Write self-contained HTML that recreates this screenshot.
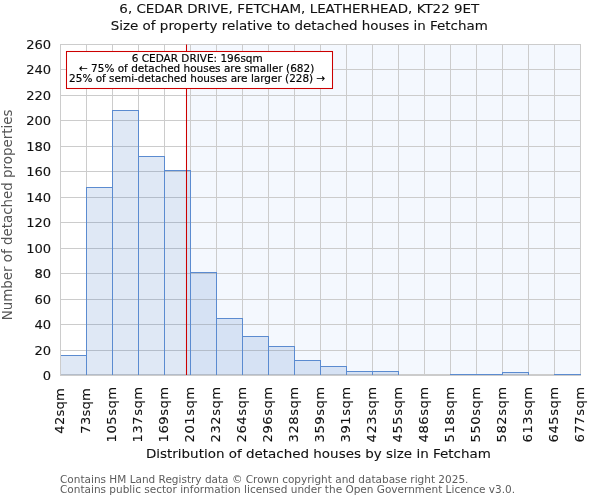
<!DOCTYPE html>
<html lang="en"><head><meta charset="utf-8"><title>6, CEDAR DRIVE, FETCHAM, LEATHERHEAD, KT22 9ET</title>
<style>html,body{margin:0;padding:0;background:#fff;}body{width:600px;height:500px;overflow:hidden;}svg{display:block;will-change:transform;}text{filter:grayscale(1);font-family:"DejaVu Sans","Liberation Sans",sans-serif;fill:#111111;}.b text{stroke:#000;stroke-width:0.18px;}.c text,text.c{stroke:#111;stroke-width:0.12px;}</style></head><body>
<svg width="600" height="500" viewBox="0 0 600 500">
<rect x="0" y="0" width="600" height="500" fill="#ffffff"/>
<rect x="186.50" y="44.00" width="394.50" height="331.00" fill="#3c82e6" fill-opacity="0.055"/>
<g stroke="#cccccc" stroke-width="1.0" fill="none" shape-rendering="crispEdges">
<line x1="60.5" y1="44.0" x2="60.5" y2="376.0"/>
<line x1="86.5" y1="44.0" x2="86.5" y2="376.0"/>
<line x1="112.5" y1="44.0" x2="112.5" y2="376.0"/>
<line x1="138.5" y1="44.0" x2="138.5" y2="376.0"/>
<line x1="164.5" y1="44.0" x2="164.5" y2="376.0"/>
<line x1="190.5" y1="44.0" x2="190.5" y2="376.0"/>
<line x1="216.5" y1="44.0" x2="216.5" y2="376.0"/>
<line x1="242.5" y1="44.0" x2="242.5" y2="376.0"/>
<line x1="268.5" y1="44.0" x2="268.5" y2="376.0"/>
<line x1="294.5" y1="44.0" x2="294.5" y2="376.0"/>
<line x1="320.5" y1="44.0" x2="320.5" y2="376.0"/>
<line x1="346.5" y1="44.0" x2="346.5" y2="376.0"/>
<line x1="372.5" y1="44.0" x2="372.5" y2="376.0"/>
<line x1="398.5" y1="44.0" x2="398.5" y2="376.0"/>
<line x1="424.5" y1="44.0" x2="424.5" y2="376.0"/>
<line x1="450.5" y1="44.0" x2="450.5" y2="376.0"/>
<line x1="476.5" y1="44.0" x2="476.5" y2="376.0"/>
<line x1="502.5" y1="44.0" x2="502.5" y2="376.0"/>
<line x1="528.5" y1="44.0" x2="528.5" y2="376.0"/>
<line x1="554.5" y1="44.0" x2="554.5" y2="376.0"/>
<line x1="580.5" y1="44.0" x2="580.5" y2="376.0"/>
<line x1="60.0" y1="350.5" x2="581.0" y2="350.5"/>
<line x1="60.0" y1="324.5" x2="581.0" y2="324.5"/>
<line x1="60.0" y1="299.5" x2="581.0" y2="299.5"/>
<line x1="60.0" y1="273.5" x2="581.0" y2="273.5"/>
<line x1="60.0" y1="248.5" x2="581.0" y2="248.5"/>
<line x1="60.0" y1="222.5" x2="581.0" y2="222.5"/>
<line x1="60.0" y1="197.5" x2="581.0" y2="197.5"/>
<line x1="60.0" y1="171.5" x2="581.0" y2="171.5"/>
<line x1="60.0" y1="146.5" x2="581.0" y2="146.5"/>
<line x1="60.0" y1="120.5" x2="581.0" y2="120.5"/>
<line x1="60.0" y1="95.5" x2="581.0" y2="95.5"/>
<line x1="60.0" y1="69.5" x2="581.0" y2="69.5"/>
<line x1="60.0" y1="44.5" x2="581.0" y2="44.5"/>
<line x1="60.0" y1="375.0" x2="581.0" y2="375.0" stroke-width="2"/>
</g>
<g fill="#4474c6" fill-opacity="0.17" stroke="none">
<rect x="60.5" y="355.5" width="26.0" height="19.5"/>
<rect x="86.5" y="187.5" width="26.0" height="187.5"/>
<rect x="112.5" y="110.5" width="26.0" height="264.5"/>
<rect x="138.5" y="156.5" width="26.0" height="218.5"/>
<rect x="164.5" y="170.5" width="26.0" height="204.5"/>
<rect x="190.5" y="272.5" width="26.0" height="102.5"/>
<rect x="216.5" y="318.5" width="26.0" height="56.5"/>
<rect x="242.5" y="336.5" width="26.0" height="38.5"/>
<rect x="268.5" y="346.5" width="26.0" height="28.5"/>
<rect x="294.5" y="360.5" width="26.0" height="14.5"/>
<rect x="320.5" y="366.5" width="26.0" height="8.5"/>
<rect x="346.5" y="371.5" width="26.0" height="3.5"/>
<rect x="372.5" y="371.5" width="26.0" height="3.5"/>
<rect x="450.5" y="374.5" width="26.0" height="0.5"/>
<rect x="476.5" y="374.5" width="26.0" height="0.5"/>
<rect x="502.5" y="372.5" width="26.0" height="2.5"/>
<rect x="554.5" y="374.5" width="26.0" height="0.5"/>
</g>
<g fill="none" stroke="#5b8bd0" stroke-width="1.0" shape-rendering="crispEdges">
<path d="M60.5 375 V355.5 H86.5 V375"/>
<path d="M86.5 375 V187.5 H112.5 V375"/>
<path d="M112.5 375 V110.5 H138.5 V375"/>
<path d="M138.5 375 V156.5 H164.5 V375"/>
<path d="M164.5 375 V170.5 H190.5 V375"/>
<path d="M190.5 375 V272.5 H216.5 V375"/>
<path d="M216.5 375 V318.5 H242.5 V375"/>
<path d="M242.5 375 V336.5 H268.5 V375"/>
<path d="M268.5 375 V346.5 H294.5 V375"/>
<path d="M294.5 375 V360.5 H320.5 V375"/>
<path d="M320.5 375 V366.5 H346.5 V375"/>
<path d="M346.5 375 V371.5 H372.5 V375"/>
<path d="M372.5 375 V371.5 H398.5 V375"/>
<path d="M450.5 375 V374.5 H476.5 V375"/>
<path d="M476.5 375 V374.5 H502.5 V375"/>
<path d="M502.5 375 V372.5 H528.5 V375"/>
<path d="M554.5 375 V374.5 H580.5 V375"/>
</g>
<line x1="60.5" y1="44.0" x2="60.5" y2="376" stroke="#cccccc" stroke-width="1" shape-rendering="crispEdges"/>
<line x1="186.50" y1="44.60" x2="186.50" y2="375" stroke="#cc0000" stroke-width="1.05"/>
<rect x="66.5" y="51.5" width="266" height="37" fill="#ffffff" stroke="#cc0000" stroke-width="1.05"/>
<g class="b" font-size="10.47" text-anchor="middle">
<text x="197.25" y="61.8" style="fill:#000000">6 CEDAR DRIVE: 196sqm</text>
<text x="196.65" y="71.8" style="fill:#000000">← 75% of detached houses are smaller (682)</text>
<text x="197.2" y="81.8" style="fill:#000000">25% of semi-detached houses are larger (228) →</text>
</g>
<g class="c" font-size="13.46" text-anchor="middle">
<text transform="translate(299.3,13) scale(1,0.94)">6, CEDAR DRIVE, FETCHAM, LEATHERHEAD, KT22 9ET</text>
<text transform="translate(299.3,30.4) scale(1,0.94)">Size of property relative to detached houses in Fetcham</text>
</g>
<g class="c" font-size="13.1" text-anchor="end">
<text x="51.2" y="380">0</text>
<text x="51.2" y="355">20</text>
<text x="51.2" y="329">40</text>
<text x="51.2" y="304">60</text>
<text x="51.2" y="278">80</text>
<text x="51.2" y="253">100</text>
<text x="51.2" y="227">120</text>
<text x="51.2" y="202">140</text>
<text x="51.2" y="176">160</text>
<text x="51.2" y="151">180</text>
<text x="51.2" y="125">200</text>
<text x="51.2" y="100">220</text>
<text x="51.2" y="74">240</text>
<text x="51.2" y="49">260</text>
</g>
<g class="c" font-size="13.1" text-anchor="end">
<text transform="translate(64.10,388.20) rotate(-90)" x="0" y="0" textLength="45.5" lengthAdjust="spacing">42sqm</text>
<text transform="translate(90.10,388.20) rotate(-90)" x="0" y="0" textLength="45.5" lengthAdjust="spacing">73sqm</text>
<text transform="translate(116.10,386.90) rotate(-90)" x="0" y="0" textLength="55.6" lengthAdjust="spacing">105sqm</text>
<text transform="translate(142.10,386.90) rotate(-90)" x="0" y="0" textLength="55.6" lengthAdjust="spacing">137sqm</text>
<text transform="translate(168.10,386.90) rotate(-90)" x="0" y="0" textLength="55.6" lengthAdjust="spacing">169sqm</text>
<text transform="translate(194.10,386.90) rotate(-90)" x="0" y="0" textLength="55.6" lengthAdjust="spacing">201sqm</text>
<text transform="translate(220.10,386.90) rotate(-90)" x="0" y="0" textLength="55.6" lengthAdjust="spacing">232sqm</text>
<text transform="translate(246.10,386.90) rotate(-90)" x="0" y="0" textLength="55.6" lengthAdjust="spacing">264sqm</text>
<text transform="translate(272.10,386.90) rotate(-90)" x="0" y="0" textLength="55.6" lengthAdjust="spacing">296sqm</text>
<text transform="translate(298.10,386.90) rotate(-90)" x="0" y="0" textLength="55.6" lengthAdjust="spacing">328sqm</text>
<text transform="translate(324.10,386.90) rotate(-90)" x="0" y="0" textLength="55.6" lengthAdjust="spacing">359sqm</text>
<text transform="translate(350.10,386.90) rotate(-90)" x="0" y="0" textLength="55.6" lengthAdjust="spacing">391sqm</text>
<text transform="translate(376.10,386.90) rotate(-90)" x="0" y="0" textLength="55.6" lengthAdjust="spacing">423sqm</text>
<text transform="translate(402.10,386.90) rotate(-90)" x="0" y="0" textLength="55.6" lengthAdjust="spacing">455sqm</text>
<text transform="translate(428.10,386.90) rotate(-90)" x="0" y="0" textLength="55.6" lengthAdjust="spacing">486sqm</text>
<text transform="translate(454.10,386.90) rotate(-90)" x="0" y="0" textLength="55.6" lengthAdjust="spacing">518sqm</text>
<text transform="translate(480.10,386.90) rotate(-90)" x="0" y="0" textLength="55.6" lengthAdjust="spacing">550sqm</text>
<text transform="translate(506.10,386.90) rotate(-90)" x="0" y="0" textLength="55.6" lengthAdjust="spacing">582sqm</text>
<text transform="translate(532.10,386.90) rotate(-90)" x="0" y="0" textLength="55.6" lengthAdjust="spacing">613sqm</text>
<text transform="translate(558.10,386.90) rotate(-90)" x="0" y="0" textLength="55.6" lengthAdjust="spacing">645sqm</text>
<text transform="translate(584.10,386.90) rotate(-90)" x="0" y="0" textLength="55.6" lengthAdjust="spacing">677sqm</text>
</g>
<text class="c" font-size="13.47" text-anchor="middle" transform="translate(318.35,457.7) scale(1,0.94)">Distribution of detached houses by size in Fetcham</text>
<text font-size="13.4" text-anchor="middle" transform="translate(11.9,214.9) rotate(-90)" style="fill:#555555">Number of detached properties</text>
<g font-size="10.5">
<text x="60" y="482.8" style="fill:#5c5c5c">Contains HM Land Registry data © Crown copyright and database right 2025.</text>
<text x="60" y="492.8" style="fill:#5c5c5c">Contains public sector information licensed under the Open Government Licence v3.0.</text>
</g>
</svg></body></html>
